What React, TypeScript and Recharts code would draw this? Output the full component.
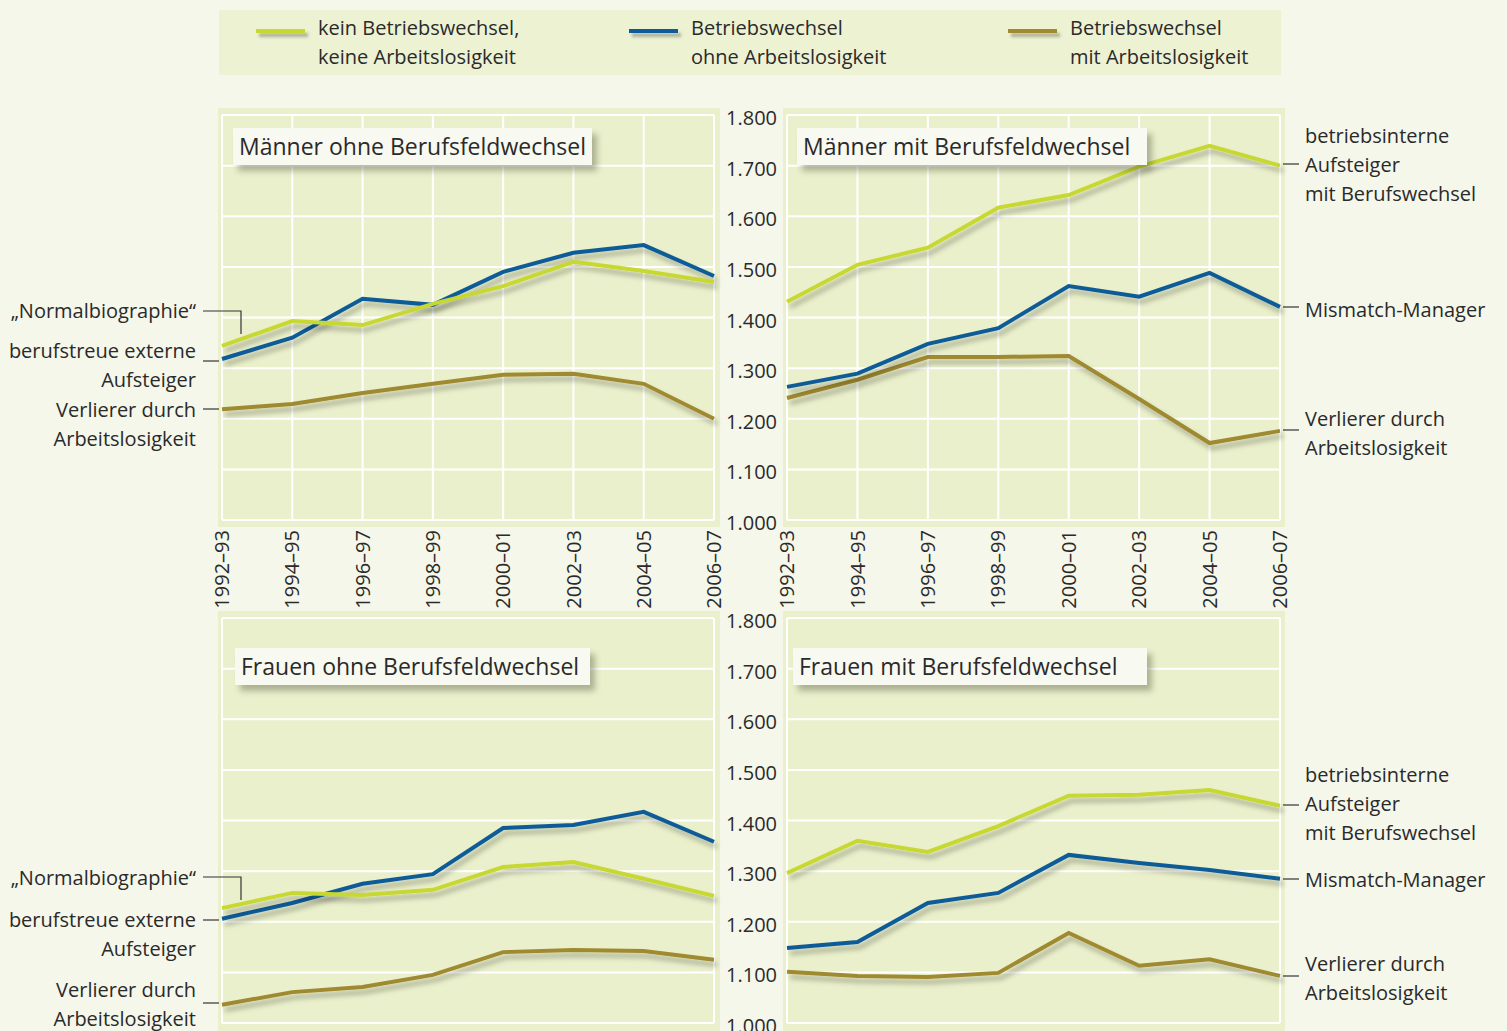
import { LineChart, Line, XAxis, YAxis, CartesianGrid } from "recharts";

const YEARS = ["1992–93", "1994–95", "1996–97", "1998–99", "2000–01", "2002–03", "2004–05", "2006–07"];
const Y_TICKS = [1000, 1100, 1200, 1300, 1400, 1500, 1600, 1700, 1800];

// Männer ohne Berufsfeldwechsel
const MEN_STAY_KEIN = [1344, 1393, 1385, 1427, 1462, 1510, 1492, 1470];
const MEN_STAY_OHNE = [1318, 1360, 1437, 1425, 1490, 1528, 1543, 1482];
const MEN_STAY_MIT = [1219, 1229, 1251, 1269, 1287, 1289, 1269, 1200];

// Männer mit Berufsfeldwechsel
const MEN_SWITCH_KEIN = [1431, 1504, 1538, 1617, 1642, 1698, 1739, 1700];
const MEN_SWITCH_OHNE = [1263, 1289, 1348, 1379, 1462, 1441, 1488, 1421];
const MEN_SWITCH_MIT = [1241, 1277, 1322, 1322, 1324, 1239, 1152, 1176];

// Frauen ohne Berufsfeldwechsel
const WOMEN_STAY_KEIN = [1227, 1257, 1253, 1263, 1308, 1318, 1285, 1251];
const WOMEN_STAY_OHNE = [1206, 1237, 1275, 1294, 1385, 1391, 1417, 1358];
const WOMEN_STAY_MIT = [1036, 1061, 1071, 1095, 1140, 1144, 1142, 1125];

// Frauen mit Berufsfeldwechsel
const WOMEN_SWITCH_KEIN = [1296, 1360, 1338, 1389, 1449, 1451, 1460, 1429];
const WOMEN_SWITCH_OHNE = [1148, 1160, 1237, 1257, 1332, 1316, 1302, 1285];
const WOMEN_SWITCH_MIT = [1101, 1093, 1091, 1099, 1178, 1113, 1126, 1093];

const YELLOW = "#c8d831";
const BLUE = "#0d5b98";
const BROWN = "#9f8a30";
const PAGE_BG = "#f5f7ea";
const PANEL_BG = "#eaf0cb";
const TEXT = "#2a2a2a";
const FONT = "'Open Sans', sans-serif";

function buildRows(kein: number[], ohne: number[], mit: number[]) {
  return YEARS.map((year, i) => ({ year, kein: kein[i], ohne: ohne[i], mit: mit[i] }));
}

const fmt = (v: number) => v.toLocaleString("de-DE");

function XTick({ x, y, payload }: any) {
  return (
    <text
      x={x}
      y={y}
      dx={-2}
      dy="0.36em"
      transform={`rotate(-90 ${x} ${y})`}
      textAnchor="end"
      fontSize={20}
      fontFamily={FONT}
      fill={TEXT}
    >
      {payload.value}
    </text>
  );
}

function YTick({ x, y, payload }: any) {
  return (
    <text x={x} y={y} dy="0.5em" textAnchor="end" fontSize={20} fontFamily={FONT} fill={TEXT}>
      {fmt(payload.value)}
    </text>
  );
}

interface PanelProps {
  id: string;
  left: number;
  top: number;
  withAxis: boolean;
  showYears: boolean;
  data: { year: string; kein: number; ohne: number; mit: number }[];
}

function Panel({ id, left, top, withAxis, showYears, data }: PanelProps) {
  const width = withAxis ? 596 : 520;
  return (
    <div style={{ position: "absolute", left, top }}>
      <LineChart
        width={width}
        height={510}
        data={data}
        margin={{ top: 15, right: 16, bottom: 0, left: withAxis ? 0 : 12 }}
      >
        <defs>
          <filter id={`sh-${id}`} x="-10%" y="-20%" width="130%" height="160%">
            <feDropShadow dx="3" dy="5" stdDeviation="2.5" floodColor="#000" floodOpacity="0.28" />
          </filter>
        </defs>
        <CartesianGrid fill={PANEL_BG} stroke="#ffffff" strokeWidth={2} />
        <XAxis
          dataKey="year"
          scale="point"
          interval={0}
          height={90}
          tickLine={false}
          axisLine={false}
          tick={showYears ? <XTick /> : false}
        />
        <YAxis
          domain={[1000, 1800]}
          ticks={Y_TICKS}
          hide={!withAxis}
          width={87}
          tickLine={false}
          axisLine={false}
          tickMargin={4}
          tick={<YTick />}
        />
        <Line dataKey="mit" stroke={BROWN} strokeWidth={4} dot={false} isAnimationActive={false} filter={`url(#sh-${id})`} />
        <Line dataKey="ohne" stroke={BLUE} strokeWidth={4} dot={false} isAnimationActive={false} filter={`url(#sh-${id})`} />
        <Line dataKey="kein" stroke={YELLOW} strokeWidth={4} dot={false} isAnimationActive={false} filter={`url(#sh-${id})`} />
      </LineChart>
    </div>
  );
}

function TitleBox({ left, top, width, text }: { left: number; top: number; width: number; text: string }) {
  return (
    <div
      style={{
        position: "absolute",
        left,
        top,
        width,
        height: 37,
        background: "#f8f9f1",
        boxShadow: "5px 6px 6px rgba(60,60,40,0.35)",
        fontFamily: FONT,
        fontSize: 23,
        fontWeight: 500,
        color: TEXT,
        lineHeight: "37px",
        paddingLeft: 6,
        boxSizing: "border-box",
        whiteSpace: "nowrap",
      }}
    >
      {text}
    </div>
  );
}

function Note({ x, y, lines, align }: { x: number; y: number; lines: string[]; align: "left" | "right" }) {
  return (
    <div
      style={{
        position: "absolute",
        top: y - 14.5,
        left: align === "left" ? x : undefined,
        right: align === "right" ? 1507 - x : undefined,
        fontFamily: FONT,
        fontSize: 20,
        lineHeight: "29px",
        color: TEXT,
        textAlign: align,
        whiteSpace: "nowrap",
      }}
    >
      {lines.map((l) => (
        <div key={l}>{l}</div>
      ))}
    </div>
  );
}

function LegendItem({ x, color, lines }: { x: number; color: string; lines: string[] }) {
  return (
    <>
      <div
        style={{
          position: "absolute",
          left: x,
          top: 29,
          width: 49,
          height: 4,
          background: color,
          boxShadow: "3px 4px 3px rgba(60,60,40,0.35)",
        }}
      />
      <div
        style={{
          position: "absolute",
          left: x + 62,
          top: 13,
          fontFamily: FONT,
          fontSize: 20,
          lineHeight: "29px",
          color: TEXT,
          whiteSpace: "nowrap",
        }}
      >
        {lines.map((l) => (
          <div key={l}>{l}</div>
        ))}
      </div>
    </>
  );
}

const band = (left: number, top: number, width: number, height: number) => (
  <div style={{ position: "absolute", left, top, width, height, background: PANEL_BG }} />
);

export default function App() {
  return (
    <div
      style={{
        position: "absolute",
        left: 0,
        top: 0,
        width: 1507,
        height: 1031,
        overflow: "hidden",
        background: PAGE_BG,
      }}
    >
      {/* legend */}
      <div style={{ position: "absolute", left: 219, top: 10, width: 1062, height: 65, background: "#edf2d3" }} />
      <LegendItem x={256} color={YELLOW} lines={["kein Betriebswechsel,", "keine Arbeitslosigkeit"]} />
      <LegendItem x={629} color={BLUE} lines={["Betriebswechsel", "ohne Arbeitslosigkeit"]} />
      <LegendItem x={1008} color={BROWN} lines={["Betriebswechsel", "mit Arbeitslosigkeit"]} />

      {/* panel bands */}
      {band(218, 108, 502, 419)}
      {band(783, 108, 502, 419)}
      {band(218, 611, 502, 430)}
      {band(783, 611, 502, 430)}

      <Panel id="a" left={210} top={100} withAxis={false} showYears data={buildRows(MEN_STAY_KEIN, MEN_STAY_OHNE, MEN_STAY_MIT)} />
      <Panel id="b" left={700} top={100} withAxis showYears data={buildRows(MEN_SWITCH_KEIN, MEN_SWITCH_OHNE, MEN_SWITCH_MIT)} />
      <Panel id="c" left={210} top={603} withAxis={false} showYears={false} data={buildRows(WOMEN_STAY_KEIN, WOMEN_STAY_OHNE, WOMEN_STAY_MIT)} />
      <Panel id="d" left={700} top={603} withAxis showYears={false} data={buildRows(WOMEN_SWITCH_KEIN, WOMEN_SWITCH_OHNE, WOMEN_SWITCH_MIT)} />

      <TitleBox left={233} top={128} width={359} text="Männer ohne Berufsfeldwechsel" />
      <TitleBox left={797} top={128} width={350} text="Männer mit Berufsfeldwechsel" />
      <TitleBox left={235} top={648} width={355} text="Frauen ohne Berufsfeldwechsel" />
      <TitleBox left={793} top={648} width={354} text="Frauen mit Berufsfeldwechsel" />

      {/* annotation connectors */}
      <svg width={1507} height={1031} style={{ position: "absolute", left: 0, top: 0, pointerEvents: "none" }}>
        <g stroke="#333" strokeWidth={1.2} fill="none">
          <polyline points="203,311 241,311 241,334" />
          <line x1={203} y1={361} x2={219} y2={361} />
          <line x1={203} y1={409} x2={219} y2={409} />
          <line x1={1283} y1={164} x2={1299} y2={164} />
          <line x1={1283} y1={307} x2={1299} y2={307} />
          <line x1={1283} y1={430} x2={1299} y2={430} />

          <polyline points="203,877 241,877 241,900" />
          <line x1={203} y1={920} x2={219} y2={920} />
          <line x1={203} y1={1003} x2={219} y2={1003} />
          <line x1={1283} y1={805} x2={1299} y2={805} />
          <line x1={1283} y1={879} x2={1299} y2={879} />
          <line x1={1283} y1={976} x2={1299} y2={976} />
        </g>
      </svg>

      <Note x={196} y={310} align="right" lines={["„Normalbiographie“"]} />
      <Note x={196} y={350} align="right" lines={["berufstreue externe", "Aufsteiger"]} />
      <Note x={196} y={409} align="right" lines={["Verlierer durch", "Arbeitslosigkeit"]} />
      <Note x={1305} y={135} align="left" lines={["betriebsinterne", "Aufsteiger", "mit Berufswechsel"]} />
      <Note x={1305} y={309} align="left" lines={["Mismatch-Manager"]} />
      <Note x={1305} y={418} align="left" lines={["Verlierer durch", "Arbeitslosigkeit"]} />

      <Note x={196} y={877} align="right" lines={["„Normalbiographie“"]} />
      <Note x={196} y={919} align="right" lines={["berufstreue externe", "Aufsteiger"]} />
      <Note x={196} y={989} align="right" lines={["Verlierer durch", "Arbeitslosigkeit"]} />
      <Note x={1305} y={774} align="left" lines={["betriebsinterne", "Aufsteiger", "mit Berufswechsel"]} />
      <Note x={1305} y={879} align="left" lines={["Mismatch-Manager"]} />
      <Note x={1305} y={963} align="left" lines={["Verlierer durch", "Arbeitslosigkeit"]} />
    </div>
  );
}
